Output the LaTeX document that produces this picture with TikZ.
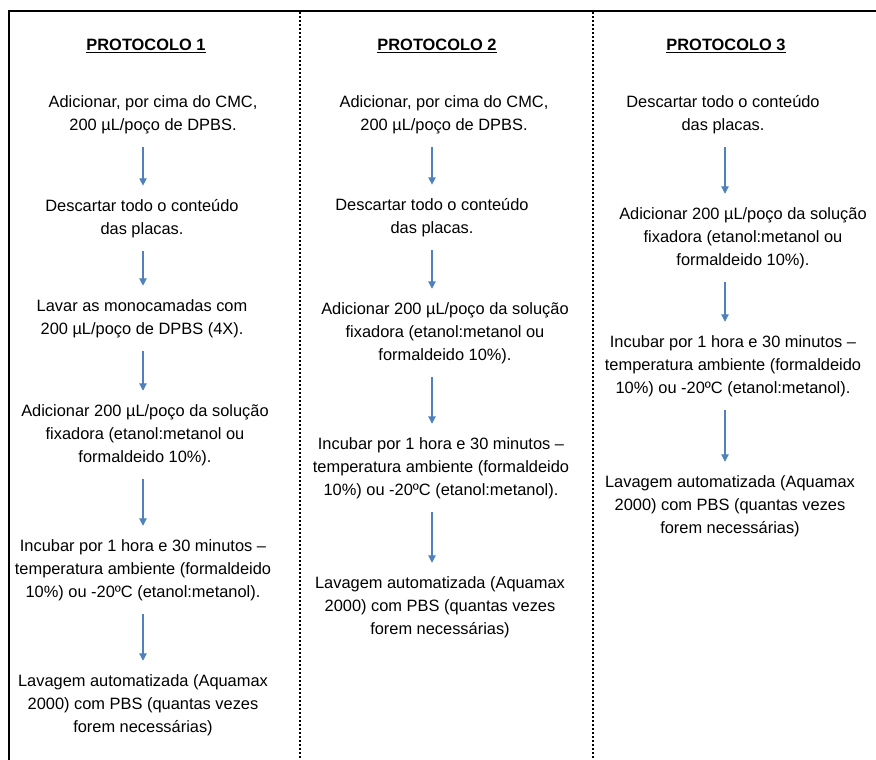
\documentclass[tikz,border=0pt]{standalone}
\usepackage{fontspec}
\setmainfont{Liberation Sans}
\usepackage{tikz}
\usetikzlibrary{arrows.meta}
\usepackage{xcolor}
\definecolor{setablue}{RGB}{79,129,189}

\begin{document}
\begin{tikzpicture}[
  x=0.75pt, y=-0.75pt,
  passo/.style={align=center, inner sep=0pt, font=\fontsize{12.3}{17.25}\selectfont},
  titulo/.style={inner sep=0pt, font=\fontsize{12.3}{17.25}\selectfont\bfseries},
  seta/.style={-{Triangle[length=5.5pt,width=5.5pt]}, setablue, line width=0.8pt,
               shorten <=10pt, shorten >=10pt},
  divisor/.style={line width=1.5pt, dash pattern=on 1.5pt off 1.5pt}]
  \useasboundingbox (0,0) rectangle (876,760);

  % frame and column dividers
  \draw[line width=1.6pt] (876,11) -- (9,11) -- (9,760);
  \draw[divisor] (300,12) -- (300,760);
  \draw[divisor] (593,12) -- (593,760);

  % arrow columns
  \coordinate (c1) at (143,0);
  \coordinate (c2) at (432,0);
  \coordinate (c3) at (725,0);

  % protocolo 1
  \node[titulo] (p1) at (146,46) {\underline{PROTOCOLO 1}};
  \node[passo] (a1) at (153,114.5) {Adicionar, por cima do CMC,\\ 200 µL/poço de DPBS.};
  \node[passo] (a2) at (142,218.5) {Descartar todo o conteúdo\\ das placas.};
  \node[passo] (a3) at (142,318.5) {Lavar as monocamadas com\\ 200 µL/poço de DPBS (4X).};
  \node[passo] (a4) at (145,435) {Adicionar 200 µL/poço da solução\\ fixadora (etanol:metanol ou\\ formaldeido 10\%).};
  \node[passo] (a5) at (143,570) {Incubar por 1 hora e 30 minutos –\\ temperatura ambiente (formaldeido\\ 10\%) ou -20ºC (etanol:metanol).};
  \node[passo] (a6) at (143,705) {Lavagem automatizada (Aquamax\\ 2000) com PBS (quantas vezes\\ forem necessárias)};
  \draw[seta] (a1.south -| c1) -- (a2.north -| c1);
  \draw[seta] (a2.south -| c1) -- (a3.north -| c1);
  \draw[seta] (a3.south -| c1) -- (a4.north -| c1);
  \draw[seta] (a4.south -| c1) -- (a5.north -| c1);
  \draw[seta] (a5.south -| c1) -- (a6.north -| c1);

  % protocolo 2
  \node[titulo] (p2) at (437,46) {\underline{PROTOCOLO 2}};
  \node[passo] (b1) at (444,114.5) {Adicionar, por cima do CMC,\\ 200 µL/poço de DPBS.};
  \node[passo] (b2) at (432,217.5) {Descartar todo o conteúdo\\ das placas.};
  \node[passo] (b3) at (445,333) {Adicionar 200 µL/poço da solução\\ fixadora (etanol:metanol ou\\ formaldeido 10\%).};
  \node[passo] (b4) at (441,468) {Incubar por 1 hora e 30 minutos –\\ temperatura ambiente (formaldeido\\ 10\%) ou -20ºC (etanol:metanol).};
  \node[passo] (b5) at (440,607) {Lavagem automatizada (Aquamax\\ 2000) com PBS (quantas vezes\\ forem necessárias)};
  \draw[seta] (b1.south -| c2) -- (b2.north -| c2);
  \draw[seta] (b2.south -| c2) -- (b3.north -| c2);
  \draw[seta] (b3.south -| c2) -- (b4.north -| c2);
  \draw[seta] (b4.south -| c2) -- (b5.north -| c2);

  % protocolo 3
  \node[titulo] (p3) at (726,46) {\underline{PROTOCOLO 3}};
  \node[passo] (d1) at (723,114.5) {Descartar todo o conteúdo\\ das placas.};
  \node[passo] (d2) at (743,238) {Adicionar 200 µL/poço da solução\\ fixadora (etanol:metanol ou\\ formaldeido 10\%).};
  \node[passo] (d3) at (733,366) {Incubar por 1 hora e 30 minutos –\\ temperatura ambiente (formaldeido\\ 10\%) ou -20ºC (etanol:metanol).};
  \node[passo] (d4) at (730,506) {Lavagem automatizada (Aquamax\\ 2000) com PBS (quantas vezes\\ forem necessárias)};
  \draw[seta] (d1.south -| c3) -- (d2.north -| c3);
  \draw[seta] (d2.south -| c3) -- (d3.north -| c3);
  \draw[seta] (d3.south -| c3) -- (d4.north -| c3);
\end{tikzpicture}
\end{document}
